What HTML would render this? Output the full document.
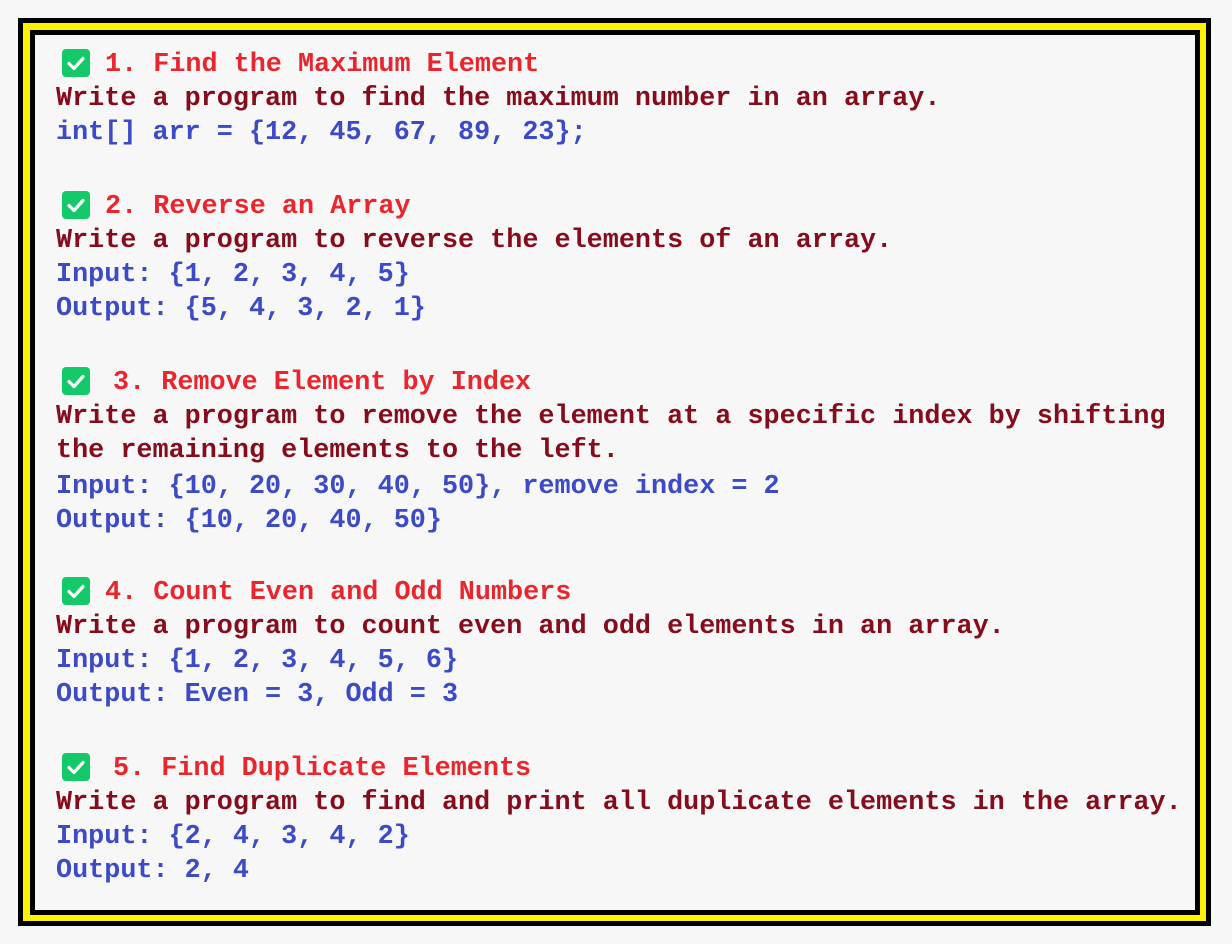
<!DOCTYPE html>
<html><head><meta charset="utf-8"><style>
html,body{margin:0;padding:0;width:1232px;height:944px;background:#f7f7f7;overflow:hidden}
.b1{position:absolute;left:18px;top:18px;width:1193px;height:908px;background:#000}
.b2{position:absolute;left:23px;top:23px;width:1183px;height:898px;background:#fff200}
.b3{position:absolute;left:30px;top:30px;width:1170px;height:885px;background:#000}
.in{position:absolute;left:35px;top:35px;width:1160px;height:875px;background:#f7f7f7}
.t{position:absolute;font-family:"Liberation Mono",monospace;font-weight:bold;font-size:26.8px;line-height:34px;height:34px;white-space:pre;left:56px}
.h{color:#e8262e}
.d{color:#850c1c}
.c{color:#3c4ac6}
.ck{position:absolute;left:62px;width:28px;height:28px;background:#14c96a;border-radius:4px}
.ck svg{position:absolute;left:0;top:0}
</style></head><body>
<div class="b1"></div><div class="b2"></div><div class="b3"></div><div class="in"></div>

<div class="ck" style="top:49px"><svg width="28" height="28"><path d="M7 14.5l5 5 9-10" stroke="#fff" stroke-width="3.2" fill="none" stroke-linecap="round" stroke-linejoin="round"/></svg></div>
<div class="t h" style="top:48px;left:105px">1. Find the Maximum Element</div>
<div class="t d" style="top:82px">Write a program to find the maximum number in an array.</div>
<div class="t c" style="top:116px">int[] arr = {12, 45, 67, 89, 23};</div>

<div class="ck" style="top:191px"><svg width="28" height="28"><path d="M7 14.5l5 5 9-10" stroke="#fff" stroke-width="3.2" fill="none" stroke-linecap="round" stroke-linejoin="round"/></svg></div>
<div class="t h" style="top:190px;left:105px">2. Reverse an Array</div>
<div class="t d" style="top:224px">Write a program to reverse the elements of an array.</div>
<div class="t c" style="top:258px">Input: {1, 2, 3, 4, 5}</div>
<div class="t c" style="top:292px">Output: {5, 4, 3, 2, 1}</div>

<div class="ck" style="top:367px"><svg width="28" height="28"><path d="M7 14.5l5 5 9-10" stroke="#fff" stroke-width="3.2" fill="none" stroke-linecap="round" stroke-linejoin="round"/></svg></div>
<div class="t h" style="top:366px;left:113px">3. Remove Element by Index</div>
<div class="t d" style="top:400px">Write a program to remove the element at a specific index by shifting</div>
<div class="t d" style="top:434px">the remaining elements to the left.</div>
<div class="t c" style="top:470px">Input: {10, 20, 30, 40, 50}, remove index = 2</div>
<div class="t c" style="top:504px">Output: {10, 20, 40, 50}</div>

<div class="ck" style="top:577px"><svg width="28" height="28"><path d="M7 14.5l5 5 9-10" stroke="#fff" stroke-width="3.2" fill="none" stroke-linecap="round" stroke-linejoin="round"/></svg></div>
<div class="t h" style="top:576px;left:105px">4. Count Even and Odd Numbers</div>
<div class="t d" style="top:610px">Write a program to count even and odd elements in an array.</div>
<div class="t c" style="top:644px">Input: {1, 2, 3, 4, 5, 6}</div>
<div class="t c" style="top:678px">Output: Even = 3, Odd = 3</div>

<div class="ck" style="top:753px"><svg width="28" height="28"><path d="M7 14.5l5 5 9-10" stroke="#fff" stroke-width="3.2" fill="none" stroke-linecap="round" stroke-linejoin="round"/></svg></div>
<div class="t h" style="top:752px;left:113px">5. Find Duplicate Elements</div>
<div class="t d" style="top:786px">Write a program to find and print all duplicate elements in the array.</div>
<div class="t c" style="top:820px">Input: {2, 4, 3, 4, 2}</div>
<div class="t c" style="top:854px">Output: 2, 4</div>
</body></html>
